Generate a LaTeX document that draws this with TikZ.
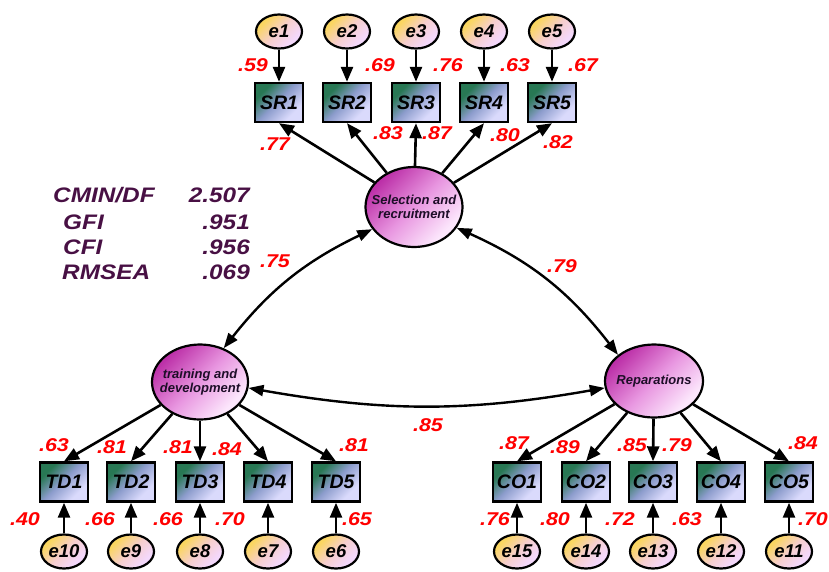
\documentclass[tikz,border=0pt]{standalone}
\usepackage{fontspec}
\setmainfont{Liberation Sans}
\newfontfamily\widefont[FakeStretch=1.16]{Liberation Sans}
\usetikzlibrary{arrows.meta,shapes.geometric}

\definecolor{latA}{RGB}{188,48,168}
\definecolor{latM}{RGB}{232,150,224}
\definecolor{latB}{RGB}{252,230,252}
\definecolor{errA}{RGB}{250,214,96}
\definecolor{errM}{RGB}{246,206,206}
\definecolor{errB}{RGB}{244,216,252}
\definecolor{boxA}{RGB}{40,120,84}
\definecolor{boxM}{RGB}{140,156,204}
\definecolor{boxB}{RGB}{218,218,252}
\definecolor{statcol}{RGB}{72,16,68}
\definecolor{lattext}{RGB}{30,14,40}

% diagonal fills: colour stops listed from the light end to the dark end
\pgfdeclareverticalshading{boxfill}{100bp}{color(0bp)=(boxB); color(30bp)=(boxB);
  color(52bp)=(boxM); color(72bp)=(boxA); color(100bp)=(boxA)}
\pgfdeclareverticalshading{errfill}{100bp}{color(0bp)=(errB); color(30bp)=(errB);
  color(50bp)=(errM); color(72bp)=(errA); color(100bp)=(errA)}
\pgfdeclareverticalshading{latfill}{100bp}{color(0bp)=(latB); color(28bp)=(latB);
  color(50bp)=(latM); color(74bp)=(latA); color(100bp)=(latA)}

\begin{document}
\begin{tikzpicture}[x=1pt,y=-1pt,
  latent/.style={ellipse, draw, line width=2.2pt, inner sep=0pt,
    shading=latfill, shading angle=45},
  lattxt/.style={align=center, text=lattext, inner sep=0pt,
    font=\fontsize{13}{14.5}\selectfont\bfseries\itshape},
  obs/.style={rectangle, draw, line width=2.4pt, inner sep=0pt,
    minimum width=48pt, minimum height=39pt,
    shading=boxfill, shading angle=45,
    font=\fontsize{19.5}{20}\selectfont\bfseries\itshape},
  err/.style={ellipse, draw, line width=2.2pt, inner sep=0pt,
    minimum width=46pt, minimum height=34pt,
    shading=errfill, shading angle=45,
    font=\fontsize{18.5}{19}\selectfont\bfseries\itshape},
  path/.style={line width=2.6pt, -{Triangle[length=15pt,width=12pt]}},
  cov/.style={line width=2.4pt,
    {Triangle[length=15pt,width=11pt]}-{Triangle[length=15pt,width=11pt]}},
  lab/.style={inner sep=0pt, text=red,
    font=\widefont\fontsize{18.5}{19}\selectfont\bfseries\itshape},
  fitstat/.style={inner sep=0pt, text=statcol,
    font=\widefont\fontsize{21}{22}\selectfont\bfseries\itshape}
]
\useasboundingbox (0,0) rectangle (829,571);

% latent factors
\node[latent, minimum width=97pt, minimum height=80pt] (sr) at (414,207) {};
\node[latent, minimum width=96pt, minimum height=75pt] (td) at (200,382) {};
\node[latent, minimum width=98pt, minimum height=73pt] (rep) at (654,381) {};
\node[lattxt] (srt) at (sr) {Selection and\\recruitment};
\node[lattxt] (tdt) at (td) {training and\\development};
\node[lattxt] (rept) at (rep) {Reparations};

% selection and recruitment indicators
\foreach \i/\x in {1/279,2/347,3/416,4/484,5/552} {
  \node[obs] (sr\i) at (\x,102.5) {SR\i};
  \node[err] (e\i) at (\x,31.5) {e\i};
  \draw[path] (e\i) -- (sr\i);
  \draw[path] (sr) -- (sr\i.south);
}

% training and development indicators
\foreach \i/\x/\e in {1/64/10,2/131/9,3/200/8,4/268/7,5/336/6} {
  \node[obs] (td\i) at (\x,482) {TD\i};
  \node[err] (e\e) at (\x,551.5) {e\e};
  \draw[path] (e\e) -- (td\i);
  \draw[path] (td) -- (td\i.north);
}

% reparations indicators
\foreach \i/\x/\e in {1/517/15,2/586/14,3/653/13,4/721/12,5/789/11} {
  \node[obs] (co\i) at (\x,482) {CO\i};
  \node[err] (e\e) at (\x,551.5) {e\e};
  \draw[path] (e\e) -- (co\i);
  \draw[path] (rep) -- (co\i.north);
}

% covariances between factors
\draw[cov] (td.55) to[bend left=13] (sr.208);
\draw[cov] (sr.334) to[bend left=14] (rep.144);
\draw[cov] (td.353) to[bend right=10] (rep.188);

% standardized estimates
\foreach \n/\x/\y/\t in {
  a1/253/65/.59, a2/380/65/.69, a3/448/65/.76, a4/515/65/.63, a5/583/65/.67,
  b1/275/144/.77, b2/388/133/.83, b3/437/133/.87, b4/505/135/.80, b5/558/142/.82,
  c1/54/445/.63, c2/112/447/.81, c3/178/447/.81, c4/227/449/.84, c5/354/445/.81,
  d1/25/519/.40, d2/100/519/.66, d3/168/519/.66, d4/230/519/.70, d5/357/519/.65,
  f1/514/443/.87, f2/565/447/.89, f3/632/445/.85, f4/677/445/.79, f5/803/443/.84,
  g1/495/519/.76, g2/555/519/.80, g3/620/519/.72, g4/687/519/.63, g5/813/519/.70,
  h1/275/261/.75, h2/562/266/.79, h3/428/425/.85}
  \node[lab] (\n) at (\x,\y) {\t};

% model fit indices
\node[fitstat, anchor=west] (k1) at (53,195) {CMIN/DF};
\node[fitstat, anchor=west] (k2) at (63,222) {GFI};
\node[fitstat, anchor=west] (k3) at (63,247) {CFI};
\node[fitstat, anchor=west] (k4) at (62,272) {RMSEA};
\node[fitstat, anchor=east] (v1) at (250,195) {2.507};
\node[fitstat, anchor=east] (v2) at (250,222) {.951};
\node[fitstat, anchor=east] (v3) at (250,247) {.956};
\node[fitstat, anchor=east] (v4) at (250,272) {.069};
\end{tikzpicture}
\end{document}
